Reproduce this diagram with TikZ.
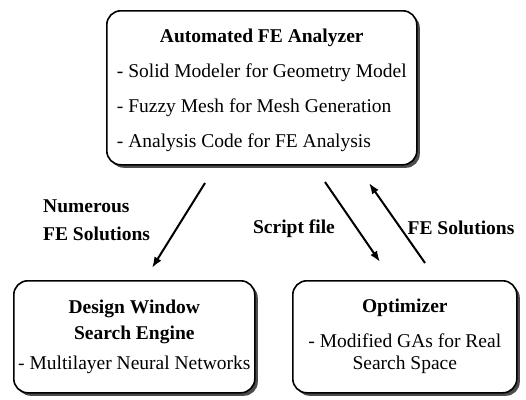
\documentclass[tikz,border=0pt]{standalone}
\usepackage{fontspec}
\setmainfont{Liberation Serif}
\usetikzlibrary{shadows,arrows.meta}
\begin{document}
\begin{tikzpicture}[x=1pt,y=-1pt,
  box/.style={draw=black, line width=1.6pt, rounded corners=14pt, fill=white,
    drop shadow={shadow xshift=3pt, shadow yshift=-3pt, fill=black!70, opacity=1},
    inner sep=0pt, anchor=north west},
  arr/.style={line width=2pt, -{Latex[length=11pt,width=8pt]}},
  lbl/.style={font=\fontsize{19.5}{28}\selectfont\bfseries, inner sep=0pt}]
\useasboundingbox (0,0) rectangle (526,399);
% boxes
\node[box, minimum width=310pt, minimum height=154pt] (fe) at (106,10)
  {\fontsize{19.5}{35}\selectfont\begin{tabular}{@{}l@{}}
   \multicolumn{1}{@{}c@{}}{\bfseries Automated FE Analyzer}\\
   - Solid Modeler for Geometry Model\\
   - Fuzzy Mesh for Mesh Generation\\
   - Analysis Code for FE Analysis
   \end{tabular}};
\node[box, minimum width=241pt, minimum height=112pt] (dw) at (13,280)
  {\fontsize{19.5}{25.5}\selectfont\begin{tabular}{@{}c@{}}
   \bfseries Design Window\\
   \bfseries Search Engine\\[5pt]
   - Multilayer Neural Networks
   \end{tabular}};
\node[box, minimum width=224pt, minimum height=112pt] (op) at (292,280)
  {\fontsize{19.5}{22}\selectfont\begin{tabular}{@{}c@{}}
   \bfseries Optimizer\\[13pt]
   - Modified GAs for Real\\
   Search Space
   \end{tabular}};
% arrow end points
\coordinate (a1s) at (205,183);
\coordinate (a1e) at (152,268);
\coordinate (a2s) at (325,182);
\coordinate (a2e) at (380,262);
\coordinate (a3s) at (425,263);
\coordinate (a3e) at (369,183);
\draw[arr] (a1s) -- (a1e);
\draw[arr] (a2s) -- (a2e);
\draw[arr] (a3s) -- (a3e);
% labels
\node[lbl, anchor=base west] (l1) at (43,212)
  {\begin{tabular}[t]{@{}l@{}}Numerous\\FE Solutions\end{tabular}};
\node[lbl, anchor=base] (l2) at (294,233) {Script file};
\node[lbl, anchor=base] (l3) at (461,234) {FE Solutions};
\end{tikzpicture}
\end{document}
